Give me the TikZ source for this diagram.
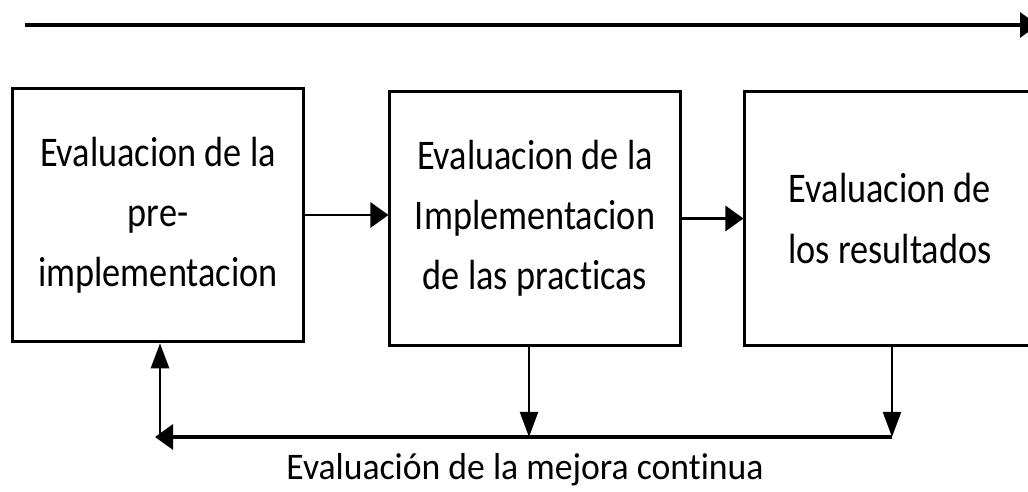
\documentclass[tikz,border=0pt]{standalone}
\usepackage{fontspec}
\setmainfont{Carlito}[Ligatures=NoCommon]
\newfontfamily\boxfont{Carlito}[FakeStretch=0.86, Ligatures=NoCommon]
\newfontfamily\loopfont{Carlito}[FakeStretch=0.95, Ligatures=NoCommon]
\usetikzlibrary{arrows.meta, calc}

\tikzset{
    stage/.style={draw, line width=2.1pt, align=center, minimum width=7.25cm, minimum height=6.34cm,
        font=\boxfont\fontsize{30pt}{42.7pt}\selectfont},
    harr/.style={-{Triangle[length=12.8pt, width=17.8pt]}, line width=2pt},
    varr/.style={-{Triangle[length=17.8pt, width=12.8pt]}, line width=1.5pt}
}

\begin{document}
\begin{tikzpicture}[x=0.025cm, y=0.025cm]
\useasboundingbox (0,0) rectangle (1028,492);
\clip (0,0) rectangle (1028,492);

% Time line
\coordinate (t-start) at (25,467);
\coordinate (t-end) at (1038,467);
\draw[harr, line width=2.2pt] (t-start) -- (t-end);

% Stages
\draw (158,277) node[stage] (pre) {Evaluacion de la\\pre-\\implementacion};
\draw (535,273.5) node[stage] (impl) {Evaluacion de la\\Implementacion\\de las practicas};
\draw (890,273.5) node[stage] (res) {Evaluacion de\\los resultados};

\draw[harr] (pre.east) -- (pre.east -| impl.west);
\draw[harr] (impl.east) -- (impl.east -| res.west);

% Feedback
\coordinate (fb-l) at (155,55);
\coordinate (fb-up) at (160,55);
\coordinate (fb-m) at (529,55);
\coordinate (fb-r) at (892,55);

\draw[varr] (fb-m |- impl.south) -- (fb-m);
\draw[varr] (fb-r |- res.south) -- (fb-r);
\draw[harr, line width=2.2pt] (fb-r) -- (fb-l);
\draw[varr, line width=2pt] (fb-up) -- (fb-up |- pre.south);

\node[anchor=base, font=\loopfont\fontsize{26.7pt}{30pt}\selectfont] (loop) at (525,12) {Evaluación de la mejora continua};
\end{tikzpicture}
\end{document}
